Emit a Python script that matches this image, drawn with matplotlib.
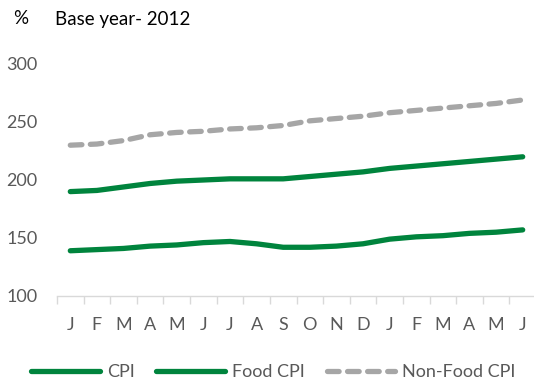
import numpy as np
import matplotlib.pyplot as plt
from matplotlib.ticker import FixedLocator

months = ['J', 'F', 'M', 'A', 'M', 'J', 'J', 'A', 'S', 'O', 'N', 'D',
          'J', 'F', 'M', 'A', 'M', 'J']
cpi = [190, 191, 194, 197, 199, 200, 201, 201, 201, 203, 205, 207,
       210, 212, 214, 216, 218, 220]
food_cpi = [139, 140, 141, 143, 144, 146, 147, 145, 142, 142, 143, 145,
            149, 151, 152, 154, 155, 157]
nonfood_cpi = [230, 231, 234, 239, 241, 242, 244, 245, 247, 251, 253, 255,
               258, 260, 262, 264, 266, 269]

green = '#00843D'
grey = '#A6A6A6'
txt = '#595959'
plt.rcParams['font.family'] = ['Lato', 'DejaVu Sans']

fig = plt.figure(figsize=(5.34, 3.83), dpi=100)
ax = fig.add_axes([57 / 534, 1 - 296 / 383, 479 / 534, 232 / 383])

x = np.arange(len(months))
ax.plot(x, cpi, color=green, lw=3.8, solid_capstyle='round', label='CPI')
ax.plot(x, food_cpi, color=green, lw=3.8, solid_capstyle='round', label='Food CPI')
ax.plot(x, nonfood_cpi, color=grey, lw=3.8, dashes=(2.2, 1.6),
        dash_capstyle='round', label='Non-Food CPI')

ax.set_xlim(-0.5, len(months) - 0.5)
ax.set_ylim(100, 300)
ax.set_yticks([100, 150, 200, 250, 300])
ax.set_xticks(x)
ax.set_xticklabels(months)
ax.xaxis.set_minor_locator(FixedLocator(np.arange(-0.5, len(months), 1)))
ax.tick_params(axis='x', which='major', length=0, pad=15, labelsize=13, colors=txt)
ax.tick_params(axis='x', which='minor', length=6, width=1, color='#D9D9D9')
ax.tick_params(axis='y', length=0, pad=14, labelsize=13, colors=txt)
for s in ['top', 'right', 'left']:
    ax.spines[s].set_visible(False)
ax.spines['bottom'].set_color('#D9D9D9')
ax.spines['bottom'].set_linewidth(1)

fig.text(13 / 534, 1 - 18 / 383, '%', fontsize=13.5, color='black', va='center')
fig.text(55 / 534, 1 - 20 / 383, 'Base year- 2012', fontsize=13.5, color='black', va='center')

fig.legend(loc='center', bbox_to_anchor=(0.512, 0.029), ncol=3, frameon=False,
           fontsize=13, handlelength=3.8, handletextpad=0.4, columnspacing=1.2,
           labelcolor=txt)

fig.savefig('out.png', dpi=100)
